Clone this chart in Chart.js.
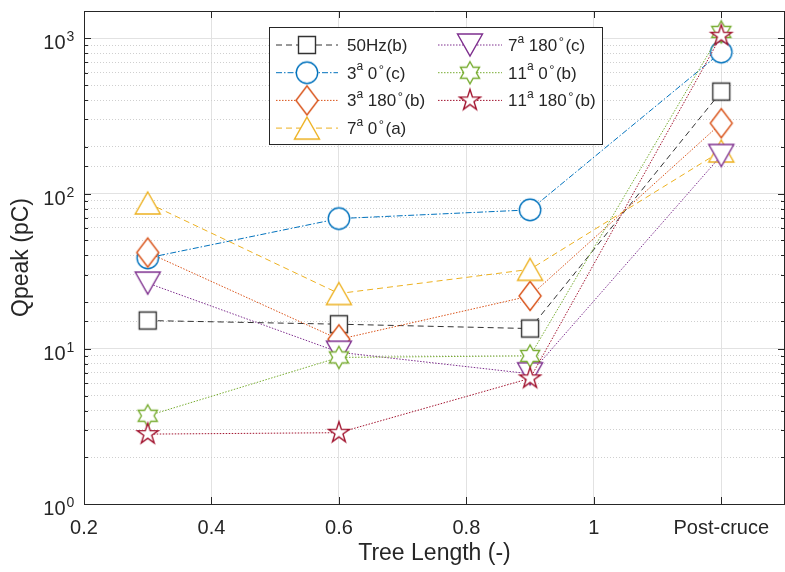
<!DOCTYPE html>
<html>
<head>
<meta charset="utf-8">
<script src="https://cdn.jsdelivr.net/npm/chart.js@4.4.0/dist/chart.umd.min.js"></script>
<style>
    html, body {margin: 0; padding: 0; background: #fff;}
    #wrap {width: 785px; height: 572px;}
</style>
</head>
<body>
<div id="wrap"><canvas id="chart" width="785" height="572"></canvas></div>
<script>
// values
const treeLength = [0.3, 0.6, 0.9, 1.2];

const q50Hz = [15.2, 14.4, 13.5, 454];
const q3a0 = [38.5, 69, 78.5, 815];
const q3a180 = [41.7, 11.5, 21.9, 284];
const q7a0 = [87, 22.7, 32.5, 188];
const q7a180 = [26.5, 9.5, 6.9, 176];
const q11a0 = [3.7, 8.8, 9.0, 1100];
const q11a180 = [2.82, 2.88, 6.45, 1040];

const seriesValues = [q50Hz, q3a0, q3a180, q7a0, q7a180, q11a0, q11a180];
const seriesNames = ['50Hz(b)', '3^a 0^°(c)', '3^a 180^°(b)', '7^a 0^°(a)', '7^a 180^°(c)', '11^a 0^°(b)', '11^a 180^°(b)'];
const seriesColors = ['#333333', '#0072BD', '#D95319', '#EDB120', '#7E2F8E', '#77AC30', '#A2142F'];
const seriesDash = [[6, 4], [6, 2, 1.5, 2], [1.5, 1.5], [6, 4], [1.5, 1.5], [1.5, 1.5], [1.5, 1.5]];
const seriesMarkers = ['square', 'circle', 'diamond', 'triUp', 'triDown', 'hexagram', 'pentagram'];

const xTickValues = [0.2, 0.4, 0.6, 0.8, 1, 1.2];
const xTickLabels = ['0.2', '0.4', '0.6', '0.8', '1', 'Post-cruce'];
const yTickValues = [1, 10, 100, 1000];

const fontFamily = '"Liberation Sans", Arial, sans-serif';
const textColor = '#262626';

Chart.defaults.font.family = fontFamily;
Chart.defaults.color = textColor;

function makeMarker(shape, color) {
    const s = 34, m = s / 2;
    const c = document.createElement('canvas');
    c.width = s;
    c.height = s;
    const g = c.getContext('2d');
    g.beginPath();
    if (shape === 'square') {
        g.rect(m - 8.5, m - 8.5, 17, 17);
    } else if (shape === 'circle') {
        g.arc(m, m, 10.7, 0, Math.PI * 2);
    } else if (shape === 'diamond') {
        g.moveTo(m, m - 14.5);
        g.lineTo(m + 11, m);
        g.lineTo(m, m + 14.5);
        g.lineTo(m - 11, m);
    } else if (shape === 'triUp') {
        g.moveTo(m, m - 11);
        g.lineTo(m + 12.5, m + 11);
        g.lineTo(m - 12.5, m + 11);
    } else if (shape === 'triDown') {
        g.moveTo(m - 12.5, m - 11);
        g.lineTo(m + 12.5, m - 11);
        g.lineTo(m, m + 11);
    } else {
        // hexagram / pentagram
        const n = shape === 'hexagram' ? 6 : 5;
        const R = 11;
        const r = shape === 'hexagram' ? R / Math.sqrt(3) : R * 0.382;
        for (let k = 0; k < n * 2; k++) {
            const a = -Math.PI / 2 + k * Math.PI / n;
            const rr = k % 2 === 0 ? R : r;
            const px = m + rr * Math.cos(a), py = m + rr * Math.sin(a);
            if (k === 0) g.moveTo(px, py); else g.lineTo(px, py);
        }
    }
    g.closePath();
    g.fillStyle = '#ffffff';
    g.fill();
    g.lineWidth = 1.4;
    g.strokeStyle = color;
    g.stroke();
    return c;
}

const markerImgs = seriesMarkers.map((s, i) => makeMarker(s, seriesColors[i]));

function isMajor(v) {
    const l = Math.log10(v);
    return Math.abs(l - Math.round(l)) < 1e-9;
}

// text with ^x superscripts
function drawRich(ctx, str, x, baseY, size) {
    let cx = x;
    for (let i = 0; i < str.length; i++) {
        let ch = str[i];
        if (ch === '^') {
            ch = str[++i];
            if (ch === '°') {
                ctx.font = (size - 4) + 'px ' + fontFamily;
                cx += 1.5;
                ctx.fillText(ch, cx, baseY - 5);
                cx += ctx.measureText(ch).width + 1.5;
            } else {
                ctx.font = (size - 5) + 'px ' + fontFamily;
                ctx.fillText(ch, cx, baseY - 8.5);
                cx += ctx.measureText(ch).width;
            }
        } else {
            ctx.font = size + 'px ' + fontFamily;
            ctx.fillText(ch, cx, baseY);
            cx += ctx.measureText(ch).width;
        }
    }
}

const axesBox = {
    id: 'axesBox',
    afterDraw(chart) {
        const {ctx, chartArea: a, scales: {x, y}} = chart;
        ctx.save();
        ctx.strokeStyle = textColor;
        ctx.lineWidth = 1;
        ctx.setLineDash([]);
        ctx.beginPath();
        ctx.moveTo(a.left, a.top + 0.5);
        ctx.lineTo(a.right, a.top + 0.5);
        ctx.moveTo(a.right - 0.5, a.top);
        ctx.lineTo(a.right - 0.5, a.bottom);
        // inward ticks
        xTickValues.forEach(v => {
            const px = Math.round(x.getPixelForValue(v)) + 0.5;
            ctx.moveTo(px, a.bottom);
            ctx.lineTo(px, a.bottom - 7);
            ctx.moveTo(px, a.top);
            ctx.lineTo(px, a.top + 7);
        });
        y.ticks.forEach(t => {
            const py = Math.round(y.getPixelForValue(t.value)) + 0.5;
            const len = isMajor(t.value) ? 7 : 4;
            ctx.moveTo(a.left, py);
            ctx.lineTo(a.left + len, py);
            ctx.moveTo(a.right, py);
            ctx.lineTo(a.right - len, py);
        });
        ctx.stroke();

        // y tick labels 10^n
        ctx.fillStyle = textColor;
        yTickValues.forEach(v => {
            const py = y.getPixelForValue(v);
            ctx.font = '20px ' + fontFamily;
            ctx.textAlign = 'right';
            ctx.textBaseline = 'alphabetic';
            ctx.fillText('10', 65.5, py + 11);
            ctx.font = '14px ' + fontFamily;
            ctx.textAlign = 'left';
            ctx.fillText(String(Math.round(Math.log10(v))), 66.5, py + 3);
        });

        // legend
        const box = {x: 269.5, y: 27.5, w: 333, h: 117};
        ctx.fillStyle = '#ffffff';
        ctx.fillRect(box.x, box.y, box.w, box.h);
        ctx.strokeStyle = textColor;
        ctx.strokeRect(box.x, box.y, box.w, box.h);
        const cols = [
            {l0: 276, l1: 338, mk: 307, tx: 347},
            {l0: 438, l1: 502, mk: 470, tx: 508}
        ];
        seriesNames.forEach((name, i) => {
            const col = cols[i < 4 ? 0 : 1];
            const row = i < 4 ? i : i - 4;
            const ry = 45 + row * 27.7;
            ctx.strokeStyle = seriesColors[i];
            ctx.lineWidth = 1;
            ctx.setLineDash(seriesDash[i]);
            ctx.beginPath();
            ctx.moveTo(col.l0, ry);
            ctx.lineTo(col.l1, ry);
            ctx.stroke();
            ctx.setLineDash([]);
            const img = markerImgs[i];
            ctx.drawImage(img, col.mk - img.width / 2, ry - img.height / 2);
            ctx.fillStyle = textColor;
            ctx.textAlign = 'left';
            ctx.textBaseline = 'alphabetic';
            drawRich(ctx, name, col.tx, ry + 6, 17);
        });
        ctx.restore();
    }
};

const datasets = seriesValues.map((vals, i) => ({
    label: seriesNames[i],
    data: treeLength.map((t, k) => ({x: t, y: vals[k]})),
    borderColor: seriesColors[i],
    backgroundColor: seriesColors[i],
    borderWidth: 1,
    borderDash: seriesDash[i],
    pointStyle: markerImgs[i],
    pointRadius: 10,
    pointHoverRadius: 10,
    fill: false,
    tension: 0,
    clip: false,
    order: -i
}));

new Chart(document.getElementById('chart').getContext('2d'), {
    type: 'line',
    data: {datasets: datasets},
    options: {
        responsive: false,
        animation: false,
        events: [],
        layout: {autoPadding: false, padding: {top: 11, right: 0, left: 0, bottom: 0}},
        plugins: {legend: {display: false}, tooltip: {enabled: false}},
        scales: {
            x: {
                type: 'linear',
                min: 0.2,
                max: 1.3,
                afterBuildTicks: s => { s.ticks = xTickValues.map(v => ({value: v})); },
                afterFit: s => {
                    s.height = 68;
                    s.paddingLeft = 0;
                    s.paddingRight = 0;
                },
                ticks: {
                    autoSkip: false,
                    maxRotation: 0,
                    padding: 12,
                    font: {size: 20},
                    color: textColor,
                    callback: (v, i) => xTickLabels[i]
                },
                grid: {color: '#e2e2e2', lineWidth: 1, drawTicks: false},
                border: {color: textColor, width: 1},
                title: {display: true, text: 'Tree Length (-)', font: {size: 23}, color: textColor, padding: {top: 0, bottom: 5}}
            },
            y: {
                type: 'logarithmic',
                min: 1,
                max: 1500,
                afterFit: s => {
                    s.width = 84;
                    s.paddingTop = 0;
                    s.paddingBottom = 0;
                },
                ticks: {display: false},
                grid: {
                    color: c => (c.tick && isMajor(c.tick.value)) ? '#e2e2e2' : '#cfcfcf',
                    lineWidth: 1,
                    drawTicks: false
                },
                border: {
                    color: textColor,
                    width: 1,
                    dash: c => (c.tick && !isMajor(c.tick.value)) ? [1, 2] : []
                },
                title: {display: true, text: 'Qpeak (pC)', font: {size: 23}, color: textColor, padding: {top: 8, bottom: 0}}
            }
        }
    },
    plugins: [axesBox]
});
</script>
</body>
</html>
